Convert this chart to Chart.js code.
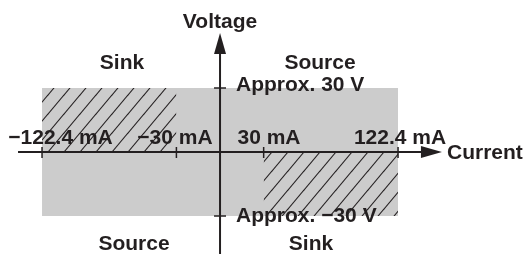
<!DOCTYPE html>
<html>
<head>
<meta charset="utf-8">
<script src="https://cdn.jsdelivr.net/npm/chart.js@4"></script>
<style>
  html, body { margin: 0; padding: 0; background: #ffffff; }
  #wrap { width: 525px; height: 254px; position: relative; }
</style>
</head>
<body>
<div id="wrap"><canvas id="c"></canvas></div>
<script>
// ---- data ----
const currentTicks = [-122.4, -30, 30, 122.4];
const currentLabels = ['\u2212122.4 mA', '\u221230 mA', '30 mA', '122.4 mA'];
const voltageTicks = [30, -30];
const voltageLabels = ['Approx. 30 V', 'Approx. \u221230 V'];
const quadrantLabels = ['Sink', 'Source', 'Source', 'Sink']; // TL, TR, BL, BR
const axisTitles = ['Current', 'Voltage'];
// operating area (gray) and sink areas (hatched)
const areaCurrent = [-122.4, 122.4];
const areaVoltage = [30, -30];
const sinkTLCurrent = [-122.4, -30];
const sinkTLVoltage = [30, 0];
const sinkBRCurrent = [30, 122.4];
const sinkBRVoltage = [0, -30];

const INK = '#231f20';
const FONT = 'bold 21px "Liberation Sans", Arial, sans-serif';

function makeHatch() {
  const W = 16, H = 19;
  const c = document.createElement('canvas');
  c.width = W; c.height = H;
  const g = c.getContext('2d');
  g.strokeStyle = '#231f20';
  g.lineWidth = 1.1;
  for (let k = -1; k <= 1; k++) {
    g.beginPath();
    g.moveTo(k * W - W, 2 * H);
    g.lineTo(k * W + 2 * W, -H);
    g.stroke();
  }
  return g.createPattern(c, 'repeat');
}
const hatch = makeHatch();

const axesPlugin = {
  id: 'axesPlugin',
  afterDatasetsDraw(chart) {
    const ctx = chart.ctx;
    const xs = chart.scales.x, ys = chart.scales.y;
    const x0 = xs.getPixelForValue(0), y0 = ys.getPixelForValue(0);
    ctx.save();
    ctx.strokeStyle = INK; ctx.fillStyle = INK;
    ctx.lineWidth = 2;
    // horizontal axis
    const hx0 = xs.getPixelForValue(-138.9), hx1 = xs.getPixelForValue(152.6);
    ctx.beginPath(); ctx.moveTo(hx0, y0); ctx.lineTo(hx1 - 18, y0); ctx.stroke();
    ctx.beginPath(); ctx.moveTo(hx1, y0); ctx.lineTo(hx1 - 21, y0 - 6); ctx.lineTo(hx1 - 21, y0 + 6); ctx.closePath(); ctx.fill();
    // vertical axis
    const vy0 = ys.getPixelForValue(-47.8), vy1 = ys.getPixelForValue(55.8);
    ctx.beginPath(); ctx.moveTo(x0, vy0); ctx.lineTo(x0, vy1 + 18); ctx.stroke();
    ctx.beginPath(); ctx.moveTo(x0, vy1); ctx.lineTo(x0 - 6, vy1 + 21); ctx.lineTo(x0 + 6, vy1 + 21); ctx.closePath(); ctx.fill();
    // ticks
    ctx.lineWidth = 1.5;
    currentTicks.forEach(v => {
      const px = xs.getPixelForValue(v);
      ctx.beginPath(); ctx.moveTo(px, y0 - 5); ctx.lineTo(px, y0 + 6); ctx.stroke();
    });
    voltageTicks.forEach(v => {
      const py = ys.getPixelForValue(v);
      ctx.beginPath(); ctx.moveTo(x0 - 6, py); ctx.lineTo(x0 + 6, py); ctx.stroke();
    });
    // texts
    ctx.font = FONT;
    ctx.textBaseline = 'alphabetic';
    ctx.textAlign = 'center';
    const curCenters = [60.5, 175, 269, 400];
    currentLabels.forEach((t, i) => ctx.fillText(t, curCenters[i], 144));
    ctx.textAlign = 'left';
    ctx.fillText(voltageLabels[0], 236, 91);
    ctx.fillText(voltageLabels[1], 236, 222);
    ctx.fillText(axisTitles[0], 447, 159);
    ctx.textAlign = 'center';
    ctx.fillText(axisTitles[1], 220, 28);
    ctx.fillText(quadrantLabels[0], 122, 69);
    ctx.fillText(quadrantLabels[1], 320, 69);
    ctx.fillText(quadrantLabels[2], 134, 250);
    ctx.fillText(quadrantLabels[3], 311, 250);
    ctx.restore();
  }
};

function edge(xArr, yVal) { return xArr.map(x => ({ x: x, y: yVal })); }

new Chart(document.getElementById('c'), {
  type: 'scatter',
  data: {
    datasets: [
      { data: edge(sinkTLCurrent, sinkTLVoltage[0]), showLine: true, borderWidth: 0, pointRadius: 0,
        backgroundColor: hatch, fill: { value: sinkTLVoltage[1] }, order: 1 },
      { data: edge(sinkBRCurrent, sinkBRVoltage[0]), showLine: true, borderWidth: 0, pointRadius: 0,
        backgroundColor: hatch, fill: { value: sinkBRVoltage[1] }, order: 1 },
      { data: edge(areaCurrent, areaVoltage[0]), showLine: true, borderWidth: 0, pointRadius: 0,
        backgroundColor: '#cccccc', fill: { value: areaVoltage[1] }, order: 3 }
    ]
  },
  options: {
    responsive: true,
    maintainAspectRatio: false,
    animation: false,
    layout: { padding: 0 },
    plugins: { legend: { display: false }, tooltip: { enabled: false } },
    scales: {
      x: { type: 'linear', display: false, min: -151.3, max: 209.7 },
      y: { type: 'linear', display: false, min: -47.81, max: 71.25 }
    }
  },
  plugins: [axesPlugin]
});
</script>
</body>
</html>
